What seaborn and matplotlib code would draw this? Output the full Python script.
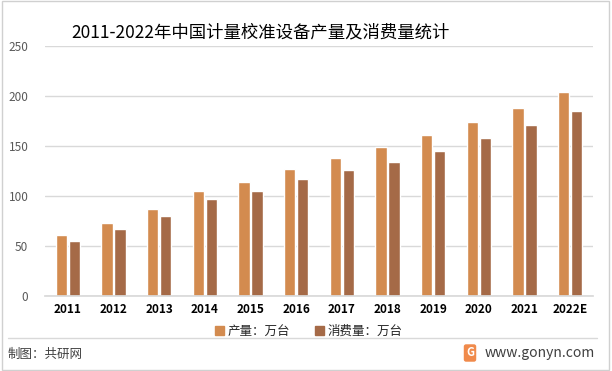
import pandas as pd
import seaborn as sns
import matplotlib.pyplot as plt
from matplotlib.patches import Rectangle
from matplotlib.lines import Line2D

years = ['2011', '2012', '2013', '2014', '2015', '2016', '2017', '2018', '2019', '2020', '2021', '2022E']
production = [61, 73, 87, 105, 114, 127, 138, 149, 161, 174, 188, 204]
consumption = [55, 67, 80, 97, 105, 117, 126, 134, 145, 158, 171, 185]
series_names = ['产量：万台', '消费量：万台']
colors = ['#D38B4F', '#A56A47']

df = pd.DataFrame({
    'year': years * 2,
    'value': production + consumption,
    'series': [series_names[0]] * len(years) + [series_names[1]] * len(years),
})

sns.set_theme(style='white')
plt.rcParams['font.family'] = ['Noto Sans CJK SC', 'DejaVu Sans']

fig = plt.figure(figsize=(6.12, 3.71), dpi=100)
ax = fig.add_axes([45 / 612, 1 - 296 / 371, 548 / 612, 250 / 371])

sns.barplot(data=df, x='year', y='value', hue='series', palette=colors,
            saturation=1, width=0.57, gap=0.15, ax=ax, legend=False)

ax.set_ylim(0, 250)
ax.set_yticks(range(0, 251, 50))
ax.grid(axis='y', color='#D9D9D9', linewidth=1)
ax.set_axisbelow(True)
ax.set_xlabel('')
ax.set_ylabel('')
for s in ['top', 'right', 'left']:
    ax.spines[s].set_visible(False)
ax.spines['bottom'].set_color('#D9D9D9')
ax.tick_params(axis='y', labelsize=8.5, labelcolor='#595959', length=0, pad=12)
ax.tick_params(axis='x', labelsize=8.5, length=0, pad=5)
for lab in ax.get_xticklabels():
    lab.set_fontweight('bold')
    lab.set_color('black')

handles = [Rectangle((0, 0), 1, 1, color=c) for c in colors]
fig.legend(handles, series_names, loc='center', bbox_to_anchor=(309 / 612, 1 - 331 / 371),
           ncol=2, frameon=False, fontsize=9, handlelength=0.7, handleheight=0.7,
           handletextpad=0.3, columnspacing=2.0)

fig.text(260 / 612, 1 - 32 / 371, '2011-2022年中国计量校准设备产量及消费量统计',
         ha='center', va='center', fontsize=12.5, color='black')

# separator line and footer
fig.add_artist(Line2D([8 / 612, 597 / 612], [1 - 338 / 371, 1 - 338 / 371],
                      color='#D9D9D9', linewidth=1))
fig.text(8 / 612, 1 - 354 / 371, '制图：共研网', ha='left', va='center',
         fontsize=9, color='#404040')
fig.text(470 / 612, 1 - 353 / 371, 'G', ha='center', va='center', fontsize=8,
         fontweight='bold', color='white',
         bbox=dict(boxstyle='round,pad=0.2', fc='#F08A4B', ec='none'))
fig.text(485 / 612, 1 - 353 / 371, 'www.gonyn.com', ha='left', va='center',
         fontsize=10, color='#404040')

fig.add_artist(Rectangle((0.003, 0.004), 0.992, 0.992, transform=fig.transFigure,
                         fill=False, edgecolor='#D0D0D0', linewidth=1))

fig.savefig('out.png', dpi=100)
